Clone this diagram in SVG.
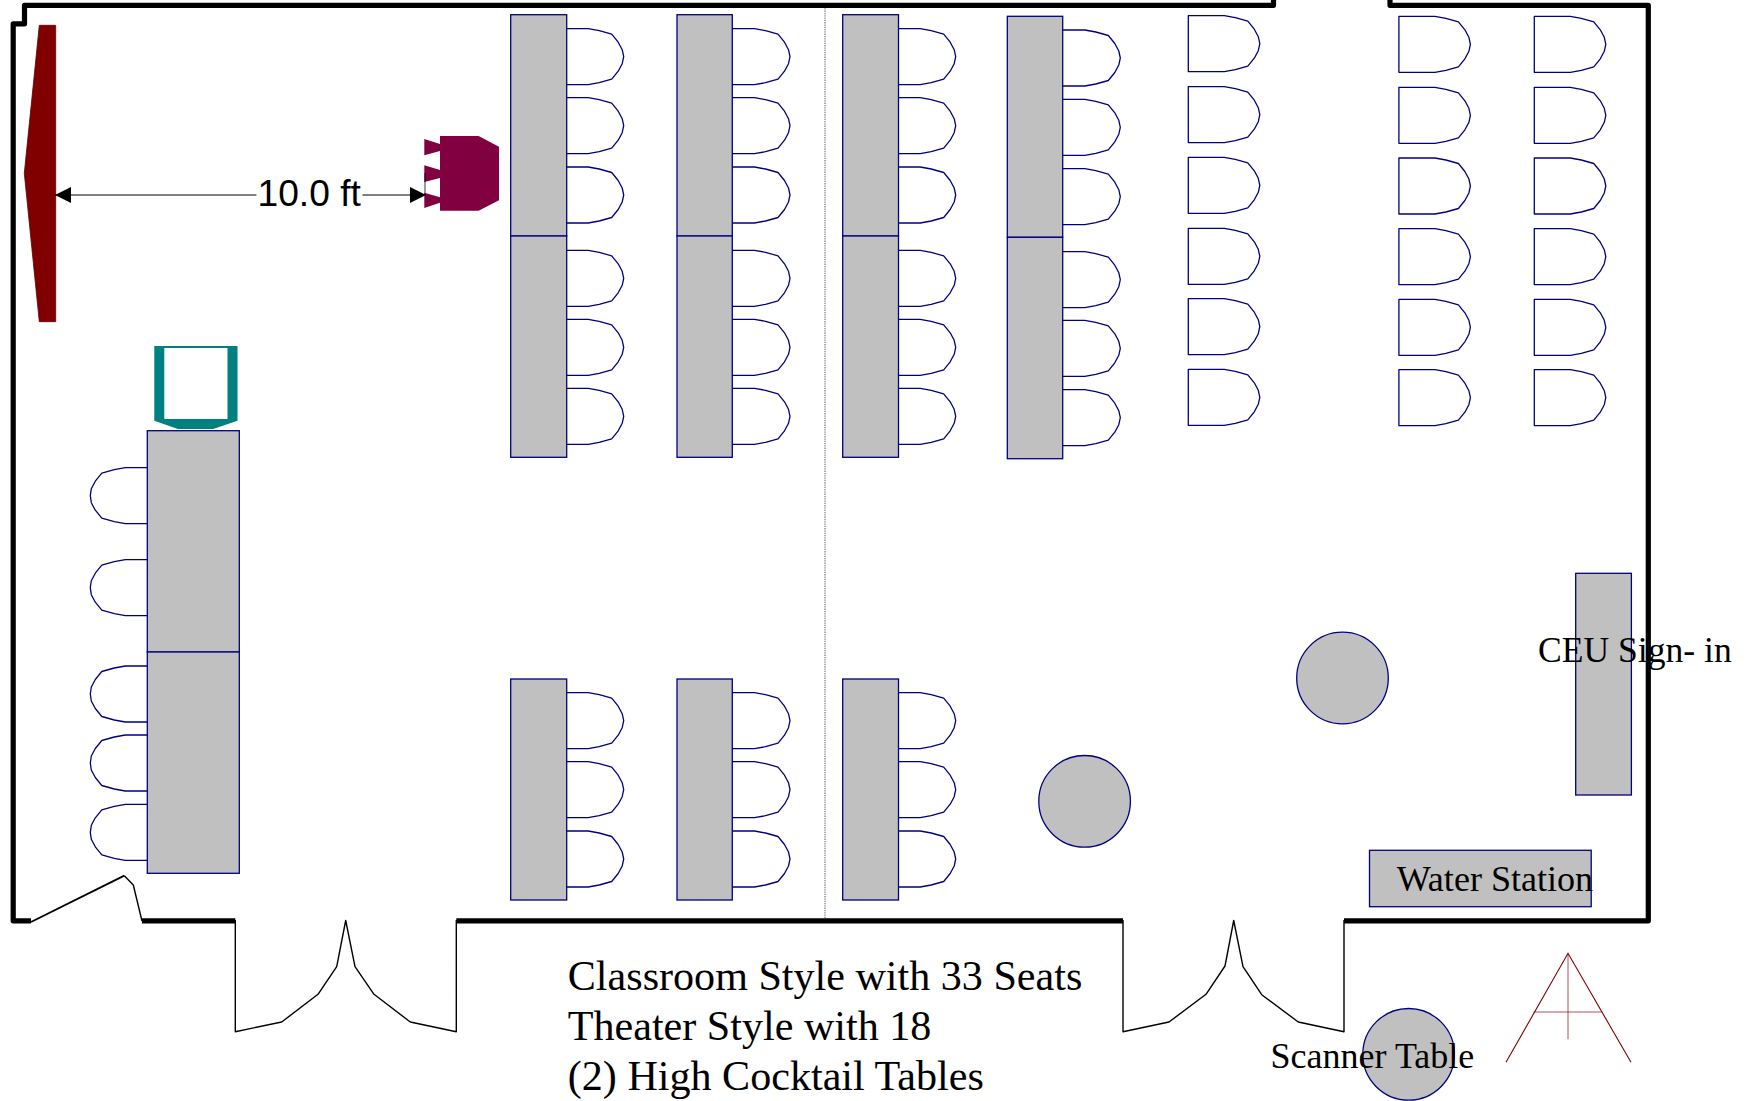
<svg xmlns="http://www.w3.org/2000/svg" width="1754" height="1101" viewBox="0 0 1754 1101">
<style>
.wall{fill:none;stroke:#000;stroke-width:5.2;stroke-linejoin:round}
.door{fill:none;stroke:#000;stroke-width:1.4;stroke-linejoin:round}
.tb{fill:#c0c0c0;stroke:#000080;stroke-width:1.3}
.ch{fill:#fff;stroke:#000080;stroke-width:1.3;stroke-linejoin:round}
.se{font-family:"Liberation Serif","Times New Roman",serif;fill:#000}
.sa{font-family:"Liberation Sans",Arial,sans-serif;fill:#000}
</style>
<defs>
<polygon id="chair" class="ch" points="0,0 36,0 47,2 59.5,5.5 66,13.5 70,21 71.5,28 70,35 66,42.5 59.5,50.5 47,54 36,56 0,56"/>
<polygon id="chairL" class="ch" points="71,0 35,0 24,2 11.5,5.5 5,13.5 1,21 0,28 1,35 5,42.5 11.5,50.5 24,54 35,56 71,56"/>
<marker id="ah" markerUnits="userSpaceOnUse" markerWidth="17" markerHeight="18" refX="16" refY="9" orient="auto"><path d="M0 1L16 9L0 17Z" fill="#000"/></marker>
</defs>
<rect width="1754" height="1101" fill="#fff"/>
<g id="divider"><line x1="825" y1="6" x2="825" y2="921" stroke="#808080" stroke-width="1.3" stroke-dasharray="1.3 1"/></g>
<g id="walls">
<path class="wall" d="M31 920.8H13.2V23.8H24.5V5.3H1273.5V0"/>
<path class="wall" d="M1390 0V5.3H1648.3V920.8H1344"/>
<path class="wall" d="M142 920.8H235.3"/>
<path class="wall" d="M456.3 920.8H1123"/>
</g>
<g id="doors">
<path class="door" style="stroke-width:1.9" d="M31 922L124.3 875.7"/>
<path class="door" d="M124.3 875.7L133.3 885L142 921"/>
<path class="door" d="M235.3 920V1031.7L281.7 1022L318 994.3L336.7 966.7L345.7 920.5L355 966.7L374 994.3L410.3 1022L456.3 1031.7V920"/>
<path class="door" d="M1123 920V1031.7L1169 1022L1206 994.3L1225 966L1233.7 920.5L1243 966.7L1261.7 994.7L1298.3 1022L1344 1031.7V920"/>
</g>
<g id="screen"><polygon points="39.3,25.3 55.7,25.3 55.7,321.7 39.3,321.7 24.3,173.3" fill="#800000" stroke="#600000" stroke-width="0.8"/></g>
<g id="podium"><path fill="#800040" d="M440 136H478.6L499 146.7V200.3L478.6 210.7H440V202.7L424.3 208V192.7L440 197.3V181.7L424.3 176.7V165.3L440 170V151L424.3 155.3V139L440 144Z M424.3 176.7L440 181.7V178L424.3 182Z"/></g>
<g id="dimension">
<line x1="425" y1="173" x2="425" y2="195" stroke="#000" stroke-width="0.8"/>
<line x1="256.4" y1="195" x2="55" y2="195" stroke="#000" stroke-width="1.1" marker-end="url(#ah)"/>
<line x1="362.5" y1="195" x2="426" y2="195" stroke="#000" stroke-width="1.1" marker-end="url(#ah)"/>
<text class="sa" x="257.5" y="205.7" font-size="37.2">10.0 ft</text>
</g>
<g id="teal-chair"><path fill="#008080" fill-rule="evenodd" d="M154.3 346H237.5V420.7L213.2 429H177.9L154.3 420.7Z M164.3 348V419H227.5V348Z"/></g>
<g id="left-table">
<use href="#chairL" x="90.3" y="467.7"/><use href="#chairL" x="90.3" y="559.7"/><use href="#chairL" x="90.3" y="666"/><use href="#chairL" x="90.3" y="735"/><use href="#chairL" x="90.3" y="804.3"/>
<rect class="tb" x="147.3" y="430.7" width="92" height="221.3"/>
<rect class="tb" x="147.3" y="652" width="92" height="221.3"/>
</g>
<g id="row-1">
<use href="#chair" x="552.2" y="28.7"/><use href="#chair" x="552.2" y="97.7"/><use href="#chair" x="552.2" y="167"/><use href="#chair" x="552.2" y="250.3"/><use href="#chair" x="552.2" y="319.3"/><use href="#chair" x="552.2" y="388.3"/>
<rect class="tb" x="510.7" y="14.7" width="56" height="221.3"/>
<rect class="tb" x="510.7" y="236" width="56" height="221.3"/>
</g>
<g id="row-2">
<use href="#chair" x="718.5" y="28.7"/><use href="#chair" x="718.5" y="97.7"/><use href="#chair" x="718.5" y="167"/><use href="#chair" x="718.5" y="250.3"/><use href="#chair" x="718.5" y="319.3"/><use href="#chair" x="718.5" y="388.3"/>
<rect class="tb" x="677" y="14.7" width="55.3" height="221.3"/>
<rect class="tb" x="677" y="236" width="55.3" height="221.3"/>
</g>
<g id="row-3">
<use href="#chair" x="884.2" y="28.7"/><use href="#chair" x="884.2" y="97.7"/><use href="#chair" x="884.2" y="167"/><use href="#chair" x="884.2" y="250.3"/><use href="#chair" x="884.2" y="319.3"/><use href="#chair" x="884.2" y="388.3"/>
<rect class="tb" x="842.7" y="14.7" width="55.8" height="221.3"/>
<rect class="tb" x="842.7" y="236" width="55.8" height="221.3"/>
</g>
<g id="row-4">
<use href="#chair" x="1048.8" y="30"/><use href="#chair" x="1048.8" y="99.3"/><use href="#chair" x="1048.8" y="168.7"/><use href="#chair" x="1048.8" y="251.7"/><use href="#chair" x="1048.8" y="320.3"/><use href="#chair" x="1048.8" y="389.7"/>
<rect class="tb" x="1007.3" y="16.3" width="55.4" height="221"/>
<rect class="tb" x="1007.3" y="237.3" width="55.4" height="221.4"/>
</g>
<g id="front-1">
<use href="#chair" x="552.2" y="692.7"/><use href="#chair" x="552.2" y="761.7"/><use href="#chair" x="552.2" y="831"/>
<rect class="tb" x="510.7" y="679" width="56" height="221"/>
</g>
<g id="front-2">
<use href="#chair" x="718.5" y="692.7"/><use href="#chair" x="718.5" y="761.7"/><use href="#chair" x="718.5" y="831"/>
<rect class="tb" x="677" y="679" width="55.3" height="221"/>
</g>
<g id="front-3">
<use href="#chair" x="884.2" y="692.7"/><use href="#chair" x="884.2" y="761.7"/><use href="#chair" x="884.2" y="831"/>
<rect class="tb" x="842.7" y="679" width="55.8" height="221"/>
</g>
<g id="theater-1">
<use href="#chair" x="1188.3" y="15.7"/><use href="#chair" x="1188.3" y="86.7"/><use href="#chair" x="1188.3" y="157.3"/><use href="#chair" x="1188.3" y="228.3"/><use href="#chair" x="1188.3" y="298.7"/><use href="#chair" x="1188.3" y="369.3"/>
</g>
<g id="theater-2">
<use href="#chair" x="1398.9" y="16.3"/><use href="#chair" x="1398.9" y="87.3"/><use href="#chair" x="1398.9" y="158"/><use href="#chair" x="1398.9" y="228.7"/><use href="#chair" x="1398.9" y="299.3"/><use href="#chair" x="1398.9" y="369.7"/>
</g>
<g id="theater-3">
<use href="#chair" x="1534.3" y="16.3"/><use href="#chair" x="1534.3" y="87.3"/><use href="#chair" x="1534.3" y="158"/><use href="#chair" x="1534.3" y="228.7"/><use href="#chair" x="1534.3" y="299.3"/><use href="#chair" x="1534.3" y="369.7"/>
</g>
<g id="cocktail-1"><circle class="tb" cx="1084.6" cy="801.3" r="45.8"/></g>
<g id="cocktail-2"><circle class="tb" cx="1342.5" cy="678" r="45.8"/></g>
<g id="ceu-table"><rect class="tb" x="1575.7" y="573.3" width="55.7" height="221.7"/></g>
<g id="water-station"><rect class="tb" x="1369.5" y="850.3" width="221.7" height="56.4"/><text class="se" x="1396.7" y="890.5" font-size="36.1">Water Station</text></g>
<g id="scanner-table"><circle class="tb" cx="1408.6" cy="1054.3" r="45.8"/><text class="se" x="1270.6" y="1067.6" font-size="36">Scanner Table</text></g>
<g id="ceu-label"><text class="se" x="1538" y="661.7" font-size="35.6">CEU Sign- in</text></g>
<g id="easel" fill="none" stroke="#800000" stroke-width="1.1"><path d="M1506 1062.3L1568 953.3L1631 1062.3"/><path stroke-width="0.9" stroke-opacity="0.75" d="M1533.5 1012H1602.5M1568 953.3V1039.3"/></g>
<g id="notes" class="se" font-size="42.1"><text x="567.8" y="990">Classroom Style with 33 Seats</text><text x="567.8" y="1040">Theater Style with 18</text><text x="567.8" y="1090">(2) High Cocktail Tables</text></g>
</svg>
